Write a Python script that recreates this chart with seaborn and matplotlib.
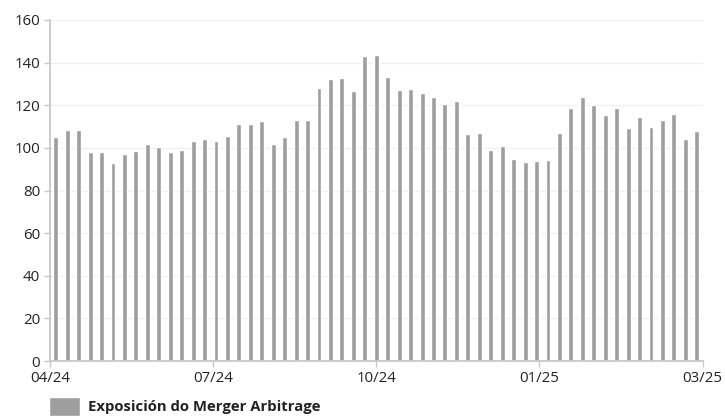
import matplotlib
matplotlib.use("Agg")
import matplotlib.pyplot as plt
import numpy as np
import pandas as pd
import seaborn as sns

# weekly exposure, apr/24 -> mar/25
exposure = [
    105.3, 108.2, 108.6, 98.3, 98.3, 93.1, 96.9, 98.7, 101.6, 100.6,
    98.3, 99.2, 103.4, 104.4, 103.0, 105.8, 111.0, 111.0, 112.4, 101.6,
    105.3, 113.3, 113.3, 127.9, 132.2, 132.6, 126.5, 143.0, 143.5, 133.1,
    127.0, 127.4, 125.6, 123.7, 120.4, 121.8, 106.7, 107.2, 99.2, 101.1,
    95.0, 93.6, 94.0, 94.5, 107.2, 118.5, 123.7, 119.9, 115.2, 118.9,
    109.1, 114.3, 109.6, 112.9, 116.1, 104.4, 107.7,
]
weeks = [f"w{i:02d}" for i in range(len(exposure))]
tick_labels = ["04/24", "07/24", "10/24", "01/25", "03/25"]
yticks = [0, 20, 40, 60, 80, 100, 120, 140, 160]
series_name = "Exposición do Merger Arbitrage"

BAR_COLOR = "#9e9e9e"

sns.set_theme(style="white")
plt.rcParams["font.family"] = ["Open Sans", "DejaVu Sans"]

df = pd.DataFrame({"week": weeks, "value": exposure})

fig = plt.figure(figsize=(7.25, 4.16), dpi=100)
ax = fig.add_axes([0.069, 0.132, 0.9, 0.82])

sns.barplot(data=df, x="week", y="value", color=BAR_COLOR, width=0.43,
            saturation=1, ax=ax, label=series_name)

n = len(weeks)
ax.set_xlim(-0.5, n - 0.5)
ax.set_ylim(0, 160)
ax.set_yticks(yticks)
ax.set_xticks(np.linspace(-0.5, n - 0.5, len(tick_labels)))
ax.set_xticklabels(tick_labels)
ax.set_xlabel("")
ax.set_ylabel("")

ax.grid(axis="y", color="#f0f0f0", lw=1)
ax.set_axisbelow(True)
for side in ["top", "right"]:
    ax.spines[side].set_visible(False)
for side in ["left", "bottom"]:
    ax.spines[side].set_color("#c8c8c8")
    ax.spines[side].set_linewidth(1.3)
ax.tick_params(axis="both", which="both", length=4, width=1, color="#c8c8c8",
               labelsize=10.8, labelcolor="#222222", pad=3, left=True, bottom=True)

leg = ax.legend(loc="upper left", bbox_to_anchor=(-0.002, -0.105), frameon=False,
                handlelength=2.1, handleheight=1.6, handletextpad=0.55,
                borderaxespad=0, borderpad=0,
                prop={"weight": "bold", "size": 10.7})
for t in leg.get_texts():
    t.set_color("#222222")

fig.savefig("out.png", dpi=100)
